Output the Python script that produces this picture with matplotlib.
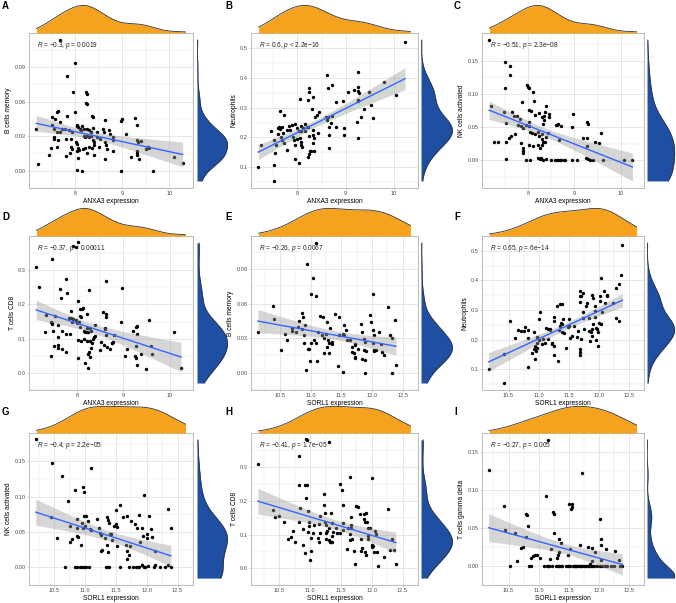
import numpy as np
import matplotlib.pyplot as plt

plt.rcParams['font.family'] = ['Liberation Sans', 'DejaVu Sans']
plt.rcParams['mathtext.fontset'] = 'custom'
plt.rcParams['mathtext.it'] = 'Liberation Sans:italic'
plt.rcParams['mathtext.rm'] = 'Liberation Sans'

# ---- data ----
a_x = [7.68, 8.00, 7.83, 7.96, 8.23, 8.24, 8.23, 8.24, 7.63, 7.62,
       7.51, 7.99, 7.83, 8.35, 8.37, 7.57, 7.68, 8.04, 8.03, 8.14,
       8.62, 8.99, 8.97, 9.26, 9.30, 7.17, 7.50, 7.55, 7.61, 7.68,
       7.71, 7.77, 7.87, 7.92, 8.06, 8.09, 8.12, 8.19, 8.25, 8.30,
       8.33, 8.38, 8.47, 8.59, 8.61, 8.72, 8.74, 8.79, 9.08, 9.30,
       9.33, 9.40, 9.54, 9.57, 7.54, 7.54, 7.63, 7.80, 7.90, 8.02,
       8.03, 8.18, 8.21, 8.25, 8.30, 8.34, 8.37, 8.40, 8.47, 8.52,
       8.64, 8.65, 8.81, 7.49, 7.61, 7.90, 7.92, 8.06, 8.16, 8.21,
       8.30, 8.35, 8.40, 8.50, 8.68, 7.43, 7.80, 7.89, 8.05, 8.25,
       8.40, 8.62, 8.80, 9.19, 9.30, 9.30, 9.31, 9.35, 9.50, 7.21,
       8.04, 8.14, 8.97, 9.64, 10.10, 10.28, 8.03, 8.08]
a_y = [0.114, 0.094, 0.082, 0.068, 0.068, 0.067, 0.059, 0.058, 0.052, 0.051,
       0.047, 0.051, 0.048, 0.048, 0.047, 0.045, 0.042, 0.040, 0.039, 0.039,
       0.044, 0.045, 0.043, 0.046, 0.040, 0.036, 0.040, 0.036, 0.034, 0.034,
       0.036, 0.036, 0.035, 0.034, 0.038, 0.036, 0.035, 0.036, 0.036, 0.035,
       0.034, 0.037, 0.034, 0.036, 0.034, 0.035, 0.032, 0.029, 0.032, 0.027,
       0.025, 0.026, 0.021, 0.020, 0.029, 0.028, 0.027, 0.028, 0.028, 0.025,
       0.023, 0.030, 0.029, 0.030, 0.029, 0.030, 0.027, 0.025, 0.029, 0.028,
       0.025, 0.022, 0.027, 0.020, 0.021, 0.021, 0.019, 0.020, 0.019, 0.020,
       0.021, 0.020, 0.022, 0.021, 0.019, 0.014, 0.013, 0.015, 0.011, 0.015,
       0.014, 0.010, 0.017, 0.012, 0.017, 0.015, 0.014, 0.010, 0.019, 0.006,
       0.001, 0.000, 0.000, 0.000, 0.012, 0.007, 0.017, 0.018]

b_x = [10.23, 8.61, 9.25, 9.80, 8.72, 8.64, 9.05, 9.17, 9.25, 9.26,
       9.28, 9.49, 10.05, 8.24, 8.25, 8.05, 8.22, 8.32, 8.79, 8.95,
       9.25, 9.26, 9.53, 9.39, 9.32, 9.24, 9.56, 7.63, 7.72, 8.31,
       8.45, 8.40, 8.37, 8.59, 8.63, 8.61, 8.72, 8.69, 8.65, 8.79,
       8.97, 8.97, 8.66, 8.65, 9.26, 7.46, 7.59, 7.61, 7.64, 7.69,
       7.59, 7.66, 7.71, 7.79, 7.82, 7.85, 7.89, 7.95, 7.90, 7.99,
       8.07, 8.12, 8.15, 8.19, 8.03, 8.07, 8.15, 8.22, 8.00, 8.05,
       8.07, 8.09, 8.08, 8.24, 8.32, 8.33, 8.35, 8.42, 8.32, 8.27,
       8.24, 8.29, 8.35, 8.22, 7.92, 7.95, 7.79, 7.52, 7.55, 7.69,
       7.72, 7.24, 7.53, 7.52, 7.19, 7.95, 8.04, 7.52]
b_y = [0.520, 0.410, 0.420, 0.387, 0.376, 0.365, 0.354, 0.360, 0.368, 0.356,
       0.348, 0.354, 0.342, 0.365, 0.352, 0.329, 0.326, 0.337, 0.319, 0.322,
       0.322, 0.325, 0.309, 0.294, 0.270, 0.253, 0.264, 0.287, 0.275, 0.296,
       0.284, 0.275, 0.270, 0.270, 0.268, 0.259, 0.272, 0.247, 0.236, 0.234,
       0.233, 0.207, 0.208, 0.166, 0.198, 0.221, 0.231, 0.236, 0.227, 0.236,
       0.212, 0.202, 0.214, 0.225, 0.239, 0.225, 0.242, 0.244, 0.203, 0.231,
       0.239, 0.231, 0.245, 0.236, 0.220, 0.223, 0.220, 0.234, 0.195, 0.199,
       0.186, 0.169, 0.175, 0.205, 0.225, 0.208, 0.197, 0.214, 0.180, 0.156,
       0.145, 0.153, 0.155, 0.136, 0.192, 0.175, 0.158, 0.192, 0.175, 0.192,
       0.180, 0.175, 0.148, 0.108, 0.100, 0.127, 0.113, 0.054]

c_x = [7.16, 7.50, 7.60, 7.60, 7.50, 7.21, 7.49, 7.52, 7.86, 7.98,
       8.00, 8.03, 8.10, 8.13, 7.66, 7.69, 7.77, 7.82, 8.03, 8.07,
       8.15, 8.23, 8.29, 8.36, 8.38, 8.34, 8.34, 8.32, 8.44, 8.46,
       8.03, 8.03, 7.79, 7.85, 7.90, 7.95, 7.36, 7.53, 7.59, 7.64,
       7.71, 7.84, 7.88, 7.89, 7.89, 8.05, 8.08, 8.14, 8.21, 8.24,
       8.29, 8.30, 8.33, 8.39, 8.42, 8.03, 8.10, 8.22, 8.25, 8.29,
       8.37, 8.60, 8.63, 8.65, 8.72, 8.66, 8.94, 8.97, 9.18, 9.26,
       9.27, 9.30, 9.28, 9.45, 9.52, 9.57, 7.26, 7.52, 7.95, 8.05,
       8.22, 8.25, 8.27, 8.32, 8.38, 8.49, 8.59, 8.62, 8.64, 8.68,
       8.72, 8.77, 8.80, 8.95, 9.06, 9.25, 9.29, 9.33, 9.40, 9.61,
       10.07, 10.25]
c_y = [0.181, 0.148, 0.142, 0.129, 0.109, 0.082, 0.073, 0.056, 0.087, 0.113,
       0.110, 0.108, 0.103, 0.089, 0.073, 0.066, 0.066, 0.062, 0.075, 0.074,
       0.068, 0.071, 0.065, 0.073, 0.081, 0.067, 0.061, 0.054, 0.070, 0.065,
       0.057, 0.052, 0.053, 0.052, 0.049, 0.053, 0.028, 0.028, 0.033, 0.036,
       0.039, 0.026, 0.018, 0.014, 0.011, 0.042, 0.041, 0.040, 0.042, 0.037,
       0.039, 0.032, 0.027, 0.035, 0.041, 0.023, 0.022, 0.023, 0.018, 0.023,
       0.027, 0.053, 0.053, 0.054, 0.052, 0.031, 0.050, 0.069, 0.034, 0.033,
       0.021, 0.055, 0.057, 0.028, 0.026, 0.041, 0.028, 0.001, 0.000, 0.000,
       0.004, 0.001, 0.004, 0.000, 0.002, 0.000, 0.000, 0.000, 0.000, 0.000,
       0.000, 0.000, 0.000, 0.000, 0.000, 0.003, 0.001, 0.000, 0.000, 0.000,
       0.000, 0.000]

d_x = [8.01, 7.92, 7.97, 7.12, 7.47, 7.19, 7.76, 7.64, 7.79, 7.66,
       8.63, 8.26, 8.97, 8.02, 7.86, 8.07, 8.12, 8.11, 8.07, 8.09,
       8.21, 8.56, 8.63, 8.62, 7.34, 7.52, 7.82, 7.88, 7.92, 7.97,
       7.90, 7.44, 7.45, 7.47, 7.58, 7.49, 8.00, 8.04, 8.07, 8.14,
       8.17, 8.21, 8.22, 8.24, 8.27, 8.30, 8.38, 8.60, 8.60, 8.62,
       8.79, 8.77, 8.75, 8.95, 9.20, 9.27, 9.29, 9.29, 7.58, 7.59,
       7.58, 7.68, 7.77, 7.30, 7.68, 7.76, 7.84, 8.01, 8.08, 8.14,
       8.22, 8.29, 8.34, 8.37, 8.39, 8.32, 8.31, 8.26, 8.23, 8.29,
       8.24, 8.01, 8.17, 8.49, 8.51, 8.58, 8.65, 8.70, 8.75, 9.04,
       9.07, 9.28, 9.25, 9.27, 9.30, 9.38, 9.49, 9.59, 9.62, 7.43,
       7.50, 10.24, 10.09, 9.56]
d_y = [0.381, 0.370, 0.369, 0.310, 0.333, 0.250, 0.275, 0.244, 0.234, 0.219,
       0.269, 0.242, 0.247, 0.210, 0.181, 0.188, 0.190, 0.186, 0.165, 0.163,
       0.172, 0.177, 0.172, 0.163, 0.168, 0.165, 0.160, 0.160, 0.157, 0.154,
       0.148, 0.150, 0.145, 0.142, 0.139, 0.121, 0.145, 0.148, 0.133, 0.122,
       0.118, 0.130, 0.120, 0.118, 0.131, 0.122, 0.141, 0.131, 0.127, 0.112,
       0.111, 0.091, 0.088, 0.150, 0.121, 0.133, 0.138, 0.115, 0.104, 0.082,
       0.073, 0.070, 0.062, 0.120, 0.122, 0.115, 0.115, 0.097, 0.093, 0.100,
       0.092, 0.092, 0.100, 0.104, 0.109, 0.086, 0.073, 0.062, 0.054, 0.045,
       0.015, 0.044, 0.029, 0.068, 0.091, 0.082, 0.077, 0.071, 0.086, 0.048,
       0.071, 0.080, 0.048, 0.044, 0.024, 0.054, 0.012, 0.080, 0.054, 0.050,
       0.079, 0.015, 0.119, 0.154]

e_x = [11.08, 10.94, 11.04, 11.01, 11.09, 12.02, 10.39, 10.41, 10.14, 10.51,
       10.92, 10.58, 10.62, 10.69, 10.70, 10.76, 10.80, 10.81, 10.86, 10.88,
       10.86, 10.89, 10.91, 10.89, 10.96, 10.97, 10.99, 11.00, 11.05, 11.09,
       11.12, 11.15, 11.20, 11.19, 11.21, 11.25, 11.27, 11.31, 11.28, 11.30,
       11.21, 11.27, 11.30, 11.34, 11.35, 11.11, 11.40, 11.46, 11.47, 11.53,
       11.55, 11.44, 11.52, 11.54, 11.57, 11.59, 11.64, 11.68, 11.71, 11.72,
       11.73, 11.72, 11.82, 11.83, 11.87, 11.90, 11.88, 11.87, 11.89, 11.97,
       11.98, 12.02, 12.03, 12.02, 12.03, 12.04, 12.07, 12.12, 12.15, 12.17,
       12.19, 12.26, 12.29, 12.32, 12.37, 12.33, 12.39, 11.88, 11.84, 11.73,
       11.78, 11.67]
e_y = [0.113, 0.094, 0.082, 0.068, 0.067, 0.068, 0.058, 0.047, 0.035, 0.020,
       0.002, 0.034, 0.028, 0.039, 0.036, 0.035, 0.040, 0.045, 0.052, 0.048,
       0.038, 0.033, 0.041, 0.026, 0.021, 0.021, 0.010, 0.026, 0.028, 0.026,
       0.035, 0.049, 0.048, 0.033, 0.030, 0.034, 0.044, 0.039, 0.028, 0.026,
       0.017, 0.022, 0.017, 0.027, 0.025, 0.010, 0.051, 0.048, 0.033, 0.034,
       0.033, 0.006, 0.001, 0.041, 0.037, 0.028, 0.028, 0.022, 0.017, 0.014,
       0.013, 0.025, 0.042, 0.035, 0.020, 0.019, 0.011, 0.029, 0.027, 0.050,
       0.044, 0.037, 0.033, 0.026, 0.020, 0.019, 0.020, 0.035, 0.025, 0.018,
       0.015, 0.057, 0.033, 0.030, 0.046, 0.000, 0.007, 0.000, 0.012, 0.024,
       0.021, 0.018]

f_x = [12.39, 10.17, 10.43, 10.42, 10.53, 10.60, 10.65, 10.71, 10.77, 10.75,
       10.83, 10.82, 10.83, 10.89, 10.92, 10.94, 10.93, 10.94, 10.96, 10.98,
       10.97, 10.98, 11.00, 11.00, 11.03, 11.06, 11.08, 11.11, 11.13, 11.15,
       11.16, 11.19, 11.19, 11.25, 11.26, 11.22, 11.22, 11.25, 11.26, 11.30,
       11.32, 11.34, 11.35, 11.36, 11.38, 11.37, 11.38, 11.39, 11.41, 11.42,
       11.45, 11.48, 11.50, 11.50, 11.52, 11.55, 11.58, 11.64, 11.65, 11.68,
       11.68, 11.69, 11.70, 11.71, 11.68, 11.68, 11.68, 11.73, 11.73, 11.75,
       11.73, 11.78, 11.81, 11.83, 11.84, 11.87, 11.88, 11.88, 11.90, 11.91,
       11.93, 11.93, 11.94, 11.96, 11.97, 11.99, 12.00, 11.99, 12.02, 12.02,
       12.03, 12.04, 12.05, 12.09, 12.10, 12.13, 12.14, 12.24, 12.28, 12.29,
       12.33, 12.34, 12.36, 11.95, 11.89, 11.86]
f_y = [0.519, 0.100, 0.053, 0.150, 0.262, 0.206, 0.234, 0.228, 0.242, 0.228,
       0.231, 0.206, 0.109, 0.156, 0.167, 0.178, 0.225, 0.134, 0.161, 0.170,
       0.189, 0.208, 0.197, 0.270, 0.292, 0.184, 0.203, 0.189, 0.240, 0.236,
       0.201, 0.236, 0.234, 0.275, 0.264, 0.189, 0.184, 0.147, 0.180, 0.315,
       0.126, 0.234, 0.245, 0.321, 0.321, 0.256, 0.226, 0.254, 0.270, 0.223,
       0.173, 0.243, 0.247, 0.269, 0.206, 0.212, 0.247, 0.209, 0.228, 0.365,
       0.346, 0.328, 0.201, 0.346, 0.167, 0.159, 0.148, 0.357, 0.293, 0.236,
       0.273, 0.312, 0.323, 0.273, 0.228, 0.225, 0.236, 0.351, 0.342, 0.253,
       0.315, 0.296, 0.275, 0.240, 0.237, 0.226, 0.255, 0.178, 0.346, 0.331,
       0.409, 0.251, 0.294, 0.363, 0.323, 0.346, 0.349, 0.322, 0.374, 0.273,
       0.264, 0.388, 0.417, 0.198, 0.212, 0.195]

g_x = [10.20, 10.47, 10.63, 10.73, 10.44, 10.55, 10.84, 10.97, 10.99, 11.09,
       10.75, 10.87, 10.87, 10.87, 10.76, 10.78, 10.88, 10.95, 10.98, 11.01,
       11.00, 10.96, 11.05, 11.08, 11.10, 10.94, 11.20, 11.22, 11.24, 11.25,
       11.26, 11.27, 11.35, 11.37, 11.38, 11.40, 11.33, 11.35, 11.37, 11.42,
       11.43, 11.47, 11.50, 11.52, 11.52, 11.57, 11.50, 11.62, 11.68, 11.67,
       11.68, 11.68, 11.71, 11.74, 11.73, 11.81, 11.84, 11.87, 11.89, 11.92,
       11.94, 11.96, 12.00, 12.01, 12.04, 12.07, 12.08, 12.13, 12.34, 12.39,
       10.67, 10.84, 10.87, 10.91, 10.95, 10.98, 11.02, 11.06, 11.34, 11.37,
       11.38, 11.56, 11.72, 11.78, 11.82, 11.85, 11.88, 11.92, 11.93, 11.95,
       11.97, 12.02, 12.11, 12.13, 12.21, 12.29, 12.34, 12.39]
g_y = [0.181, 0.147, 0.129, 0.094, 0.071, 0.042, 0.110, 0.114, 0.107, 0.141,
       0.058, 0.068, 0.056, 0.045, 0.036, 0.040, 0.043, 0.063, 0.073, 0.072,
       0.058, 0.055, 0.065, 0.054, 0.053, 0.031, 0.069, 0.056, 0.048, 0.046,
       0.023, 0.024, 0.071, 0.067, 0.063, 0.047, 0.042, 0.031, 0.021, 0.047,
       0.039, 0.058, 0.062, 0.057, 0.030, 0.088, 0.081, 0.071, 0.073, 0.032,
       0.023, 0.012, 0.018, 0.066, 0.030, 0.061, 0.055, 0.074, 0.036, 0.056,
       0.045, 0.103, 0.041, 0.047, 0.072, 0.054, 0.043, 0.023, 0.082, 0.056,
       0.000, 0.000, 0.000, 0.000, 0.000, 0.000, 0.000, 0.000, 0.000, 0.001,
       0.000, 0.000, 0.000, 0.000, 0.000, 0.000, 0.000, 0.003, 0.003, 0.000,
       0.000, 0.002, 0.000, 0.003, 0.000, 0.000, 0.003, 0.000]

h_x = [10.15, 10.82, 10.93, 10.95, 11.31, 10.40, 10.42, 10.50, 10.58, 10.64,
       10.69, 10.72, 10.75, 10.82, 10.83, 10.82, 10.89, 10.91, 10.95, 10.93,
       10.96, 10.98, 10.98, 10.96, 10.89, 10.91, 11.00, 11.01, 11.02, 11.04,
       11.06, 11.16, 11.14, 11.16, 11.12, 11.15, 11.22, 11.23, 11.24, 11.24,
       11.25, 11.25, 11.26, 11.30, 11.32, 11.33, 11.35, 11.37, 11.36, 11.35,
       11.33, 11.28, 11.30, 11.42, 11.43, 11.48, 11.51, 11.53, 11.49, 11.53,
       11.54, 11.60, 11.61, 11.64, 11.65, 11.67, 11.66, 11.68, 11.71, 11.72,
       11.65, 11.66, 11.75, 11.77, 11.80, 11.82, 11.82, 11.84, 11.87, 11.88,
       11.89, 11.91, 11.92, 11.93, 11.94, 11.94, 11.97, 11.89, 11.91, 12.01,
       12.00, 12.01, 12.02, 12.03, 12.05, 12.06, 12.09, 12.10, 12.19, 12.26,
       12.30, 12.33, 12.36, 12.39]
h_y = [0.311, 0.333, 0.383, 0.381, 0.374, 0.174, 0.151, 0.154, 0.136, 0.086,
       0.093, 0.111, 0.079, 0.248, 0.178, 0.136, 0.115, 0.246, 0.246, 0.209,
       0.169, 0.138, 0.124, 0.109, 0.070, 0.046, 0.023, 0.052, 0.090, 0.106,
       0.129, 0.154, 0.131, 0.104, 0.091, 0.077, 0.221, 0.187, 0.163, 0.136,
       0.129, 0.104, 0.088, 0.084, 0.079, 0.078, 0.079, 0.109, 0.095, 0.134,
       0.163, 0.111, 0.118, 0.120, 0.106, 0.251, 0.232, 0.187, 0.105, 0.113,
       0.135, 0.057, 0.120, 0.102, 0.084, 0.120, 0.127, 0.086, 0.050, 0.012,
       0.272, 0.153, 0.186, 0.183, 0.160, 0.088, 0.050, 0.061, 0.160, 0.147,
       0.138, 0.165, 0.138, 0.120, 0.097, 0.088, 0.120, 0.048, 0.039, 0.268,
       0.064, 0.068, 0.066, 0.048, 0.111, 0.102, 0.048, 0.007, 0.034, 0.176,
       0.054, 0.086, 0.054, 0.013]

i_x = [11.15, 10.17, 11.72, 11.13, 10.42, 11.51, 11.53, 11.55, 11.55, 10.79,
       10.80, 11.24, 11.25, 12.02, 10.44, 10.60, 10.83, 10.79, 11.25, 11.34,
       11.37, 11.33, 11.32, 11.30, 11.20, 11.19, 10.74, 10.71, 10.64, 10.53,
       10.87, 10.91, 10.94, 10.97, 11.02, 11.48, 11.52, 11.68, 11.82, 11.86,
       11.89, 11.93, 12.04, 12.03, 12.04, 11.89, 12.12, 12.26, 12.34, 10.84,
       10.87, 11.09, 11.14, 11.16, 11.17, 11.23, 11.29, 11.32, 11.34, 11.37,
       11.39, 11.46, 11.48, 11.52, 11.57, 11.59, 11.60, 11.62, 11.64, 11.66,
       11.68, 11.70, 11.72, 11.76, 11.78, 11.82, 11.84, 11.87, 11.89, 11.92,
       11.97, 12.02, 12.06, 12.10, 12.14, 12.20, 12.25, 12.35, 12.39]
i_y = [0.166, 0.126, 0.122, 0.092, 0.079, 0.081, 0.075, 0.082, 0.078, 0.069,
       0.067, 0.071, 0.069, 0.062, 0.047, 0.044, 0.052, 0.038, 0.044, 0.035,
       0.030, 0.018, 0.015, 0.011, 0.022, 0.009, 0.025, 0.024, 0.007, 0.000,
       0.010, 0.013, 0.014, 0.015, 0.010, 0.014, 0.022, 0.028, 0.025, 0.002,
       0.024, 0.018, 0.035, 0.028, 0.008, 0.006, 0.023, 0.020, 0.008, 0.000,
       0.000, 0.000, 0.000, 0.000, 0.000, 0.000, 0.000, 0.000, 0.000, 0.000,
       0.000, 0.000, 0.000, 0.000, 0.000, 0.000, 0.000, 0.000, 0.000, 0.000,
       0.000, 0.000, 0.000, 0.000, 0.000, 0.000, 0.000, 0.000, 0.000, 0.000,
       0.000, 0.000, 0.000, 0.000, 0.000, 0.000, 0.000, 0.000, 0.000]

anxa3_ticks = [8, 9, 10]
anxa3_labels = ['8', '9', '10']
sorl1_ticks = [10.5, 11.0, 11.5, 12.0, 12.5]
sorl1_labels = ['10.5', '11.0', '11.5', '12.0', '12.5']
bmem_ticks = [0.00, 0.03, 0.06, 0.09]
bmem_labels = ['0.00', '0.03', '0.06', '0.09']
neut_ticks = [0.1, 0.2, 0.3, 0.4, 0.5]
neut_labels = ['0.1', '0.2', '0.3', '0.4', '0.5']
nk_ticks = [0.00, 0.05, 0.10, 0.15]
nk_labels = ['0.00', '0.05', '0.10', '0.15']
cd8_ticks = [0.0, 0.1, 0.2, 0.3]
cd8_labels = ['0.0', '0.1', '0.2', '0.3']
gd_ticks = [0.00, 0.05, 0.10, 0.15]
gd_labels = ['0.00', '0.05', '0.10', '0.15']

notes = [r'$R$ = −0.3, $p$ = 0.0019', r'$R$ = 0.6, $p$ < 2.2e−16',
         r'$R$ = −0.51, $p$ = 2.3e−08', r'$R$ = −0.37, $p$ = 0.00011',
         r'$R$ = −0.26, $p$ = 0.0067', r'$R$ = 0.65, $p$ = 6e−14',
         r'$R$ = −0.4, $p$ = 2.2e−05', r'$R$ = −0.41, $p$ = 1.7e−05',
         r'$R$ = −0.27, $p$ = 0.005']

# layout in pixels
W, H = 676, 603
main_cols = [(29, 193), (251, 418), (482, 644)]
right_cols = [(197, 229), (421, 454), (647, 676)]
main_rows = [(33, 188), (236, 390), (433, 585)]
top_rows = [(4, 33), (207, 236), (405, 433)]
letter_x = [2, 225, 454]
letter_y = [6, 217, 412]

ORANGE = '#F5A21E'
BLUE = '#1E4FA2'
GRID = '#E0E0E0'
BORDER = '#B3B3B3'

fig = plt.figure(figsize=(W / 100, H / 100), dpi=100)


def frac(x0, y0, x1, y1):
    return [x0 / W, 1 - y1 / H, (x1 - x0) / W, (y1 - y0) / H]


def expand(lo, hi, m=0.05):
    d = (hi - lo) * m
    return lo - d, hi + d


def kde(v, grid, adjust=1.4):
    n = len(v)
    iqr = np.subtract(*np.percentile(v, [75, 25]))
    s = min(np.std(v, ddof=1), iqr / 1.34)
    if s <= 0:
        s = np.std(v, ddof=1)
    bw = adjust * 0.9 * s * n ** -0.2
    z = (grid[:, None] - v[None, :]) / bw
    return np.exp(-0.5 * z ** 2).sum(axis=1) / (n * bw * np.sqrt(2 * np.pi))


def fit_band(x, y):
    b, a = np.polyfit(x, y, 1)
    xs = np.linspace(x.min(), x.max(), 80)
    n = len(x)
    s = np.sqrt(np.sum((y - (a + b * x)) ** 2) / (n - 2))
    sxx = np.sum((x - x.mean()) ** 2)
    se = s * np.sqrt(1 / n + (xs - x.mean()) ** 2 / sxx)
    fit = a + b * xs
    return xs, fit, fit - 1.98 * se, fit + 1.98 * se


def minors(ticks):
    t = np.asarray(ticks, float)
    step = t[1] - t[0]
    t = np.concatenate([[t[0] - step], t, [t[-1] + step]])
    return (t[:-1] + t[1:]) / 2


def panel(k, x, y, xt, xl, yt, yl, xlab, ylab):
    row, col = divmod(k, 3)
    x = np.asarray(x, float)
    y = np.asarray(y, float)
    (mx0, mx1), (my0, my1) = main_cols[col], main_rows[row]

    ax = fig.add_axes(frac(mx0, my0, mx1, my1))
    xs, fit, lo, hi = fit_band(x, y)
    ax.scatter(x, y, s=6, color='black', linewidths=0, zorder=3)
    ax.fill_between(xs, lo, hi, color='#999999', alpha=0.4, lw=0, zorder=4)
    ax.plot(xs, fit, color='#3366FF', lw=1.0, zorder=5)
    xlim = expand(x.min(), x.max())
    ylim = expand(min(y.min(), lo.min()), max(y.max(), hi.max()))
    ax.set_xlim(xlim)
    ax.set_ylim(ylim)
    ax.set_xticks(xt)
    ax.set_xticklabels(xl)
    ax.set_yticks(yt)
    ax.set_yticklabels(yl)
    ax.set_xticks(minors(xt), minor=True)
    ax.set_yticks(minors(yt), minor=True)
    ax.grid(which='major', color=GRID, lw=0.55)
    ax.grid(which='minor', color=GRID, lw=0.3)
    ax.set_axisbelow(True)
    for sp in ax.spines.values():
        sp.set_color(BORDER)
        sp.set_linewidth(0.6)
    ax.tick_params(which='major', length=1.5, width=0.4, color=BORDER,
                   labelsize=4.1, labelcolor='#4D4D4D', pad=1)
    ax.tick_params(which='minor', length=0)
    ax.set_xlabel(xlab, fontsize=4.8, labelpad=1)
    ax.set_ylabel(ylab, fontsize=4.8, labelpad=1.5)
    ax.text(0.05, 0.92, notes[k], transform=ax.transAxes, fontsize=4.7,
            ha='left', va='center', color='#222222', zorder=6)

    # top density
    tx0, tx1 = top_rows[row]
    axt = fig.add_axes(frac(mx0, tx0, mx1, tx1))
    gx = np.linspace(x.min(), x.max(), 300)
    dx = kde(x, gx)
    axt.fill_between(gx, 0, dx, color=ORANGE, lw=0)
    axt.plot(gx, dx, color='#333333', lw=0.6)
    axt.set_xlim(xlim)
    axt.set_ylim(0, dx.max() * 1.05)
    axt.axis('off')

    # right density
    rx0, rx1 = right_cols[col]
    axr = fig.add_axes(frac(rx0, my0, rx1, my1))
    gy = np.linspace(y.min(), y.max(), 300)
    dy = kde(y, gy)
    axr.fill_betweenx(gy, 0, dy, color=BLUE, lw=0)
    axr.plot(dy, gy, color='#333333', lw=0.6)
    axr.set_ylim(expand(y.min(), y.max()))
    axr.set_xlim(0, dy.max() * 1.05)
    axr.axis('off')

    fig.text(letter_x[col] / W, 1 - letter_y[row] / H, 'ABCDEFGHI'[k],
             fontsize=7, fontweight='bold', ha='left', va='center')


panel(0, a_x, a_y, anxa3_ticks, anxa3_labels, bmem_ticks, bmem_labels,
      'ANXA3 expression', 'B cells memory')
panel(1, b_x, b_y, anxa3_ticks, anxa3_labels, neut_ticks, neut_labels,
      'ANXA3 expression', 'Neutrophils')
panel(2, c_x, c_y, anxa3_ticks, anxa3_labels, nk_ticks, nk_labels,
      'ANXA3 expression', 'NK cells activated')
panel(3, d_x, d_y, anxa3_ticks, anxa3_labels, cd8_ticks, cd8_labels,
      'ANXA3 expression', 'T cells CD8')
panel(4, e_x, e_y, sorl1_ticks, sorl1_labels, bmem_ticks, bmem_labels,
      'SORL1 expression', 'B cells memory')
panel(5, f_x, f_y, sorl1_ticks, sorl1_labels, neut_ticks, neut_labels,
      'SORL1 expression', 'Neutrophils')
panel(6, g_x, g_y, sorl1_ticks, sorl1_labels, nk_ticks, nk_labels,
      'SORL1 expression', 'NK cells activated')
panel(7, h_x, h_y, sorl1_ticks, sorl1_labels, cd8_ticks, cd8_labels,
      'SORL1 expression', 'T cells CD8')
panel(8, i_x, i_y, sorl1_ticks, sorl1_labels, gd_ticks, gd_labels,
      'SORL1 expression', 'T cells gamma delta')

fig.savefig('out.png', dpi=100)
